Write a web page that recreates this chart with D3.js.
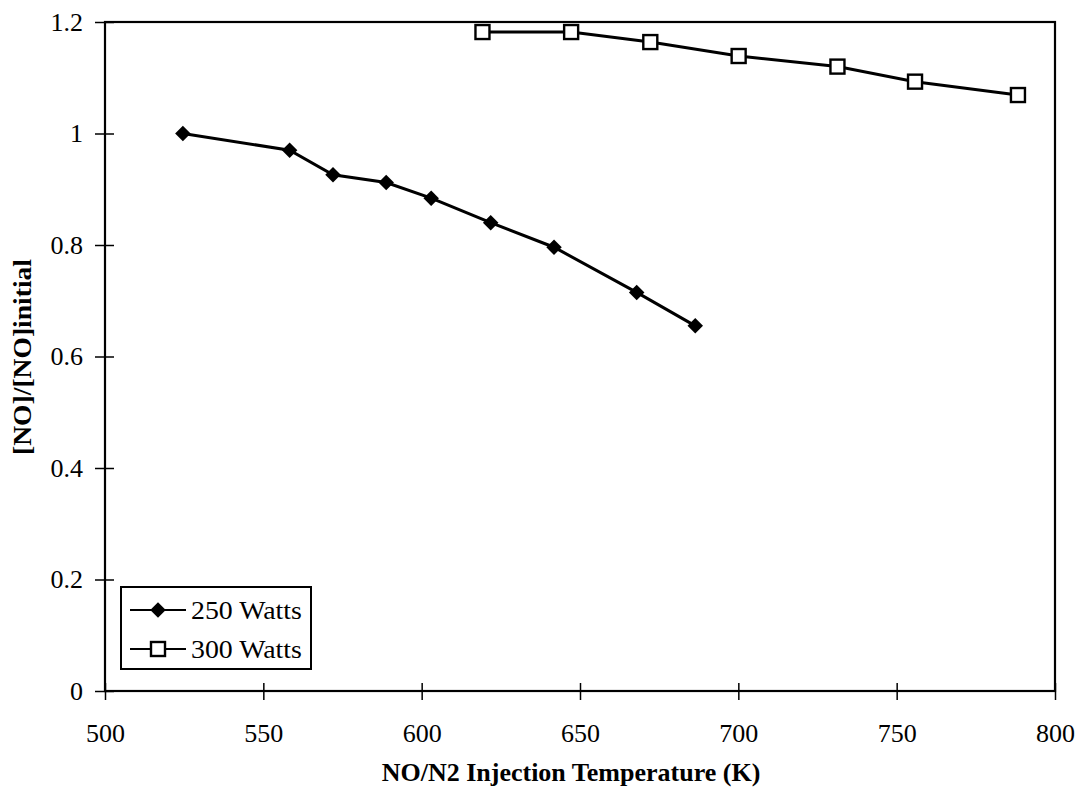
<!DOCTYPE html>
<html>
<head>
<meta charset="utf-8">
<script src="https://cdn.jsdelivr.net/npm/d3@7"></script>
<style>
	body { margin: 0; background: #fff; }
	text { font-family: "Liberation Serif", "DejaVu Serif", serif; fill: #000; }
</style>
</head>
<body>
<svg id="chart" width="1080" height="794"></svg>
<script>
// data
var temp250 = [524.6, 558.3, 572.0, 588.8, 603.0, 621.8, 641.8, 667.9, 686.4];
var ratio250 = [1.0, 0.970, 0.926, 0.912, 0.884, 0.840, 0.796, 0.715, 0.655];
var temp300 = [619.2, 647.2, 672.2, 700.1, 731.3, 755.8, 788.3];
var ratio300 = [1.182, 1.182, 1.164, 1.139, 1.120, 1.093, 1.069];
var xTicks = [500, 550, 600, 650, 700, 750, 800];
var yTicks = [0, 0.2, 0.4, 0.6, 0.8, 1, 1.2];
var seriesNames = ["250 Watts", "300 Watts"];

var svg = d3.select("#chart");
var plotLeft = 105, plotRight = 1055, plotTop = 22, plotBottom = 691;

var x = d3.scaleLinear().domain([500, 800]).range([plotLeft, plotRight]);
var y = d3.scaleLinear().domain([0, 1.2]).range([plotBottom, plotTop]);

// the scanned type runs a little wider than Liberation Serif
function widen(sel, factor) {
	sel.each(function () {
		var w = this.getComputedTextLength();
		d3.select(this).attr("textLength", w * factor).attr("lengthAdjust", "spacingAndGlyphs");
	});
}

// frame
svg.append("rect")
	.attr("x", plotLeft).attr("y", plotTop)
	.attr("width", plotRight - plotLeft).attr("height", plotBottom - plotTop)
	.attr("fill", "none").attr("stroke", "#000").attr("stroke-width", 2.2);

// axes, ticks cross the line
var xAxis = svg.append("g").attr("transform", "translate(0," + plotBottom + ")")
	.call(d3.axisBottom(x).tickValues(xTicks).tickSize(9).tickFormat(d3.format("d")));
xAxis.select(".domain").remove();
xAxis.selectAll(".tick line").attr("y1", -8).attr("y2", 9).attr("stroke-width", 1.5);
xAxis.selectAll(".tick text").attr("dy", null).attr("y", 51)
	.style("font-size", "26px").style("font-family", null);

var yAxis = svg.append("g").attr("transform", "translate(" + plotLeft + ",0)")
	.call(d3.axisLeft(y).tickValues(yTicks).tickSize(9).tickFormat(function (d) { return d; }));
yAxis.select(".domain").remove();
yAxis.selectAll(".tick line").attr("x1", -10).attr("x2", 9).attr("stroke-width", 1.5);
yAxis.selectAll(".tick text").attr("x", -22)
	.style("font-size", "26px").style("font-family", null);

// axis titles
svg.append("text")
	.attr("x", 571).attr("y", 781)
	.attr("text-anchor", "middle")
	.style("font-size", "26px").style("font-weight", "bold")
	.text("NO/N2 Injection Temperature (K)");

var yTitle = svg.append("text")
	.attr("transform", "translate(31,357) rotate(-90)")
	.attr("text-anchor", "middle")
	.style("font-size", "26px").style("font-weight", "bold")
	.text("[NO]/[NO]initial");
widen(yTitle, 1.06);

var line = d3.line().x(function (d) { return x(d[0]); }).y(function (d) { return y(d[1]); });
var diamond = d3.symbol().type(d3.symbolSquare).size(120);

function drawSeries(xs, ys, marker) {
	var pts = d3.zip(xs, ys);
	svg.append("path").datum(pts).attr("d", line)
		.attr("fill", "none").attr("stroke", "#000").attr("stroke-width", 3);
	var g = svg.append("g");
	pts.forEach(function (p) {
		marker(g, x(p[0]), y(p[1]));
	});
}

function drawDiamond(g, cx, cy) {
	g.append("path").attr("d", diamond)
		.attr("transform", "translate(" + cx + "," + cy + ") rotate(45)")
		.attr("fill", "#000");
}

function drawSquare(g, cx, cy) {
	g.append("rect")
		.attr("x", cx - 7).attr("y", cy - 7)
		.attr("width", 14).attr("height", 14)
		.attr("fill", "#fff").attr("stroke", "#000").attr("stroke-width", 2.4);
}

drawSeries(temp250, ratio250, drawDiamond);
drawSeries(temp300, ratio300, drawSquare);

// legend
var lg = svg.append("g");
lg.append("rect")
	.attr("x", 121).attr("y", 587).attr("width", 190).attr("height", 82)
	.attr("fill", "#fff").attr("stroke", "#000").attr("stroke-width", 2);
var markers = [drawDiamond, drawSquare];
seriesNames.forEach(function (name, i) {
	var ry = 610 + i * 39;
	lg.append("line").attr("x1", 130).attr("x2", 186).attr("y1", ry).attr("y2", ry)
		.attr("stroke", "#000").attr("stroke-width", 2);
	markers[i](lg, 158, ry);
	var t = lg.append("text").attr("x", 191).attr("y", ry).attr("dy", "0.35em")
		.style("font-size", "26px").text(name);
	widen(t, 1.07);
});
</script>
</body>
</html>
